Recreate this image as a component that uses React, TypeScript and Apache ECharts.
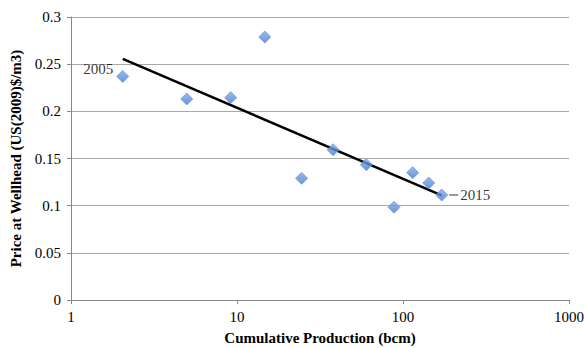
import React, { useEffect, useRef } from "react";
import * as echarts from "echarts";

const cumulativeProduction = [2.05, 4.98, 9.16, 14.7, 24.5, 37.9, 60.1, 88.3, 114.4, 142.8, 171];
const wellheadPrice = [0.237, 0.2131, 0.2145, 0.2788, 0.129, 0.1593, 0.1435, 0.0983, 0.135, 0.124, 0.1113];
const pointLabels = ["2005", "", "", "", "", "", "", "", "", "", "2015"];
const yTicks = { min: 0, max: 0.3, interval: 0.05 };
const xRange = { min: 1, max: 1000 };

function logFit(xs: number[], ys: number[]) {
  const lx = xs.map((x) => Math.log10(x));
  const n = xs.length;
  const mx = lx.reduce((a, b) => a + b, 0) / n;
  const my = ys.reduce((a, b) => a + b, 0) / n;
  let sxy = 0;
  let sxx = 0;
  for (let i = 0; i < n; i++) {
    sxy += (lx[i] - mx) * (ys[i] - my);
    sxx += (lx[i] - mx) * (lx[i] - mx);
  }
  const b = sxy / sxx;
  const a = my - b * mx;
  return (x: number) => a + b * Math.log10(x);
}

export default function App() {
  const ref = useRef<HTMLDivElement>(null);
  useEffect(() => {
    document.body.style.margin = "0";
    if (!ref.current) return;
    const chart = echarts.init(ref.current, undefined, { renderer: "svg" });
    const fit = logFit(cumulativeProduction, wellheadPrice);
    const xMin = Math.min(...cumulativeProduction);
    const xMax = Math.max(...cumulativeProduction);
    const trend = [
      [xMin, fit(xMin)],
      [xMax, fit(xMax)],
    ];
    const font = "'Liberation Serif', 'Times New Roman', serif";
    const scatterData = cumulativeProduction.map((x, i) => {
      const item: any = { value: [x, wellheadPrice[i]] };
      if (pointLabels[i] && i === 0) {
        item.label = {
          show: true,
          formatter: pointLabels[i],
          position: "left",
          distance: 3,
          offset: [0, -7],
        };
      } else if (pointLabels[i]) {
        item.label = {
          show: true,
          formatter: "{l|}{t|" + pointLabels[i] + "}",
          position: "right",
          distance: 1,
          rich: {
            l: { width: 9, height: 1, backgroundColor: "#000", verticalAlign: "middle" },
            t: { padding: [0, 0, 0, 2], fontSize: 15, fontFamily: font, color: "#000" },
          },
        };
      }
      return item;
    });
    chart.setOption({
      animation: false,
      backgroundColor: "#ffffff",
      textStyle: { fontFamily: font },
      grid: { left: 71, right: 15, top: 17, bottom: 48, containLabel: false, outerBoundsMode: "none" },
      xAxis: {
        type: "log",
        logBase: 10,
        min: xRange.min,
        max: xRange.max,
        name: "Cumulative Production (bcm)",
        nameLocation: "middle",
        nameGap: 30,
        nameTextStyle: { fontFamily: font, fontSize: 15, fontWeight: "bold", color: "#000", lineHeight: 16 },
        axisLine: { show: true, lineStyle: { color: "#888", width: 1 } },
        axisTick: { show: true, length: 4, inside: false, lineStyle: { color: "#888" } },
        axisLabel: {
          fontFamily: font,
          fontSize: 15,
          color: "#000",
          margin: 9,
          formatter: (v: number) => String(v),
        },
        splitLine: { show: false },
        minorTick: { show: false },
      },
      yAxis: {
        type: "value",
        min: yTicks.min,
        max: yTicks.max,
        interval: yTicks.interval,
        name: "Price at Wellhead (US(2009)$/m3)",
        nameLocation: "middle",
        nameGap: 46,
        nameTextStyle: { fontFamily: font, fontSize: 15, fontWeight: "bold", color: "#000" },
        axisLine: { show: true, lineStyle: { color: "#888", width: 1 } },
        axisTick: { show: true, length: 4, lineStyle: { color: "#888" } },
        axisLabel: { fontFamily: font, fontSize: 15, color: "#000", margin: 10 },
        splitLine: { show: true, lineStyle: { color: "#a8a8a8", width: 1 } },
      },
      series: [
        {
          type: "line",
          data: trend,
          symbol: "none",
          lineStyle: { color: "#000", width: 2.5 },
          z: 3,
        },
        {
          type: "scatter",
          data: scatterData,
          symbol: "diamond",
          symbolSize: 12,
          itemStyle: {
            color: new echarts.graphic.LinearGradient(0, 0, 0, 1, [
              { offset: 0, color: "#82abe6" },
              { offset: 1, color: "#4479cc" },
            ]),
            borderColor: "#6a98dc",
            borderWidth: 1,
          },
          label: { color: "#000", fontFamily: font, fontSize: 15 },
          z: 4,
        },
      ],
    });
    return () => chart.dispose();
  }, []);
  return <div ref={ref} style={{ width: 584, height: 348 }} />;
}
